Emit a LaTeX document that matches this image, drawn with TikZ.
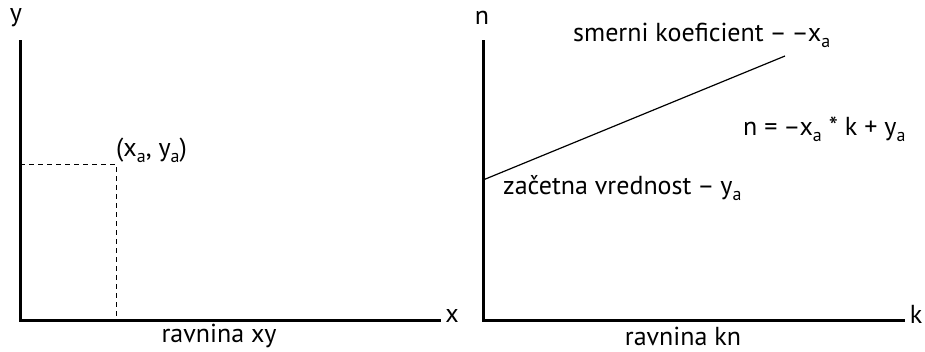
\documentclass[tikz,border=0pt]{standalone}
\usepackage{fontspec}
\setmainfont{PT Sans}
\newcommand\lowsub[1]{\raisebox{-0.45ex}{\fontsize{18}{20}\selectfont #1}}
\newcommand\ndash{\kern-1pt–\kern-1pt}
\begin{document}
\begin{tikzpicture}[x=1pt,y=-1pt,
  axis/.style={line width=3pt},
  guide/.style={line width=0.9pt,dash pattern=on 5pt off 4pt},
  lbl/.style={inner sep=0pt,font=\fontsize{26}{31}\selectfont}]
\useasboundingbox (0,0) rectangle (925,351);
% left panel
\coordinate (o1) at (20,320);
\coordinate (y1) at (20,40);
\coordinate (x1) at (441,320);
\coordinate (p) at (116,164);
\coordinate (py) at (20,164);
\coordinate (px) at (116,320);
\draw[axis] (y1) -- (o1) -- (x1);
\draw[guide] (py) -- (p) -- (px);
\node[lbl] (ly) at (16,18) {y};
\node[lbl] (lx) at (452,316) {x};
\node[lbl,anchor=west] (lp) at (116,150) {(x\lowsub{a}, y\lowsub{a})};
\node[lbl] (lr1) at (219,336) {ravnina xy};
% right panel
\coordinate (o2) at (483,320);
\coordinate (y2) at (483,40);
\coordinate (x2) at (905,320);
\coordinate (l0) at (483,180);
\coordinate (l1) at (785,56);
\draw[axis] (y2) -- (o2) -- (x2);
\draw[line width=1.2pt] (l0) -- (l1);
\node[lbl] (ln) at (482,18) {n};
\node[lbl] (lk) at (916,314) {k};
\node[lbl,anchor=west] (ls) at (573,35) {smerni koeficient \ndash{} \ndash x\lowsub{a}};
\node[lbl,anchor=west] (le) at (743,129) {n = \ndash x\lowsub{a} * k + y\lowsub{a}};
\node[lbl,anchor=west] (lz) at (503,188) {začetna vrednost \ndash{} y\lowsub{a}};
\node[lbl] (lr2) at (683,336) {ravnina kn};
\end{tikzpicture}
\end{document}
